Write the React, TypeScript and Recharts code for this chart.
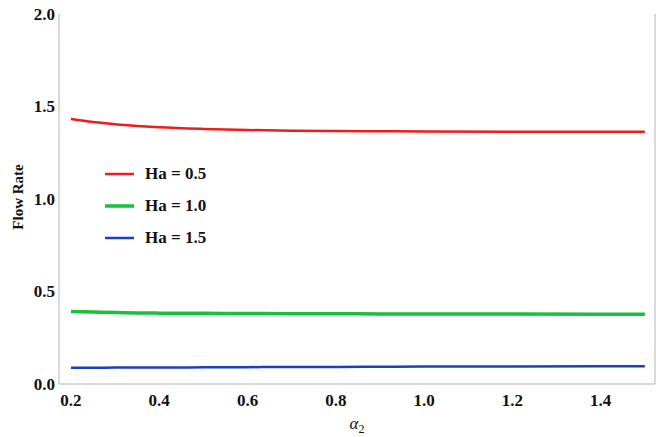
import React from "react";
import { LineChart, Line, XAxis, YAxis } from "recharts";

// alpha_2 sample points
const alphaValues = [0.2, 0.25, 0.3, 0.35, 0.4, 0.5, 0.6, 0.7, 0.8, 0.9, 1.0, 1.2, 1.4, 1.5];
// flow rate per Hartmann number
const ha05 = [1.432, 1.416, 1.404, 1.395, 1.388, 1.379, 1.373, 1.369, 1.367, 1.366, 1.365, 1.364, 1.364, 1.364];
const ha10 = [0.392, 0.389, 0.386, 0.384, 0.383, 0.382, 0.381, 0.38, 0.38, 0.379, 0.379, 0.378, 0.377, 0.377];
const ha15 = [0.088, 0.088, 0.089, 0.089, 0.089, 0.09, 0.091, 0.092, 0.092, 0.093, 0.094, 0.095, 0.096, 0.096];

const xTicks = [0.2, 0.4, 0.6, 0.8, 1.0, 1.2, 1.4];
const yTicks = [0, 0.5, 1.0, 1.5, 2.0];

const series = [
  { key: "ha05", name: "Ha = 0.5", color: "#ee1c1c", width: 2.5 },
  { key: "ha10", name: "Ha = 1.0", color: "#16c23a", width: 3.5 },
  { key: "ha15", name: "Ha = 1.5", color: "#1b3fbf", width: 2.5 },
];

const data = alphaValues.map((a, i) => ({
  alpha: a,
  ha05: ha05[i],
  ha10: ha10[i],
  ha15: ha15[i],
}));

const FONT = "'Liberation Serif', 'Times New Roman', serif";
const FRAME = "#b4b4b4";

const XTick = (props: any) => {
  const { x, y, payload } = props;
  return (
    <text x={x} y={y + 22} textAnchor="middle" fontFamily={FONT} fontWeight="bold" fontSize={17} fill="#111">
      {payload.value.toFixed(1)}
    </text>
  );
};

const YTick = (props: any) => {
  const { x, y, payload } = props;
  return (
    <text x={x} y={y + 5.5} textAnchor="end" fontFamily={FONT} fontWeight="bold" fontSize={17} fill="#111">
      {payload.value.toFixed(1)}
    </text>
  );
};

// legend sits inside the plot, so it's an overlay rather than a recharts Legend
const LegendBox = () => (
  <div
    style={{
      position: "absolute",
      left: 105,
      top: 158,
      fontFamily: FONT,
      fontWeight: "bold",
      fontSize: 17,
      color: "#111",
    }}
  >
    {series.map((s) => (
      <div key={s.key} style={{ display: "flex", alignItems: "center", height: 32 }}>
        <svg width={40} height={10}>
          <line x1={0} y1={5} x2={29} y2={5} stroke={s.color} strokeWidth={s.width} />
        </svg>
        <span>{s.name}</span>
      </div>
    ))}
  </div>
);

export default function App() {
  return (
    <div style={{ position: "absolute", left: 0, top: 0, width: 656, height: 437, background: "#fff" }}>
      <LineChart width={656} height={437} data={data} margin={{ top: 14, right: 0, bottom: 0, left: 0 }}>
        <XAxis
          dataKey="alpha"
          type="number"
          domain={[0.173, 1.523]}
          ticks={xTicks}
          tick={<XTick />}
          tickLine={false}
          tickSize={0}
          tickMargin={0}
          height={53}
          stroke={FRAME}
          allowDataOverflow
        />
        <XAxis xAxisId="top" orientation="top" type="number" domain={[0, 1]} tick={false} tickLine={false} height={0} stroke={FRAME} />
        <YAxis
          type="number"
          domain={[0, 2]}
          ticks={yTicks}
          tick={<YTick />}
          tickLine={false}
          tickSize={0}
          tickMargin={4}
          width={59}
          stroke={FRAME}
        />
        <YAxis yAxisId="right" orientation="right" type="number" domain={[0, 1]} tick={false} tickLine={false} width={1} stroke={FRAME} />
        {series.map((s) => (
          <Line
            key={s.key}
            type="monotone"
            dataKey={s.key}
            name={s.name}
            stroke={s.color}
            strokeWidth={s.width}
            dot={false}
            isAnimationActive={false}
          />
        ))}
        <text
          x={23}
          y={197}
          transform="rotate(-90, 23, 197)"
          textAnchor="middle"
          fontFamily={FONT}
          fontWeight="bold"
          fontSize={15}
          fill="#111"
        >
          Flow Rate
        </text>
        <text x={357} y={429} textAnchor="middle" fontFamily={FONT} fontSize={17} fill="#111">
          <tspan fontStyle="italic">α</tspan>
          <tspan fontSize={12} dy={4}>2</tspan>
        </text>
      </LineChart>
      <LegendBox />
    </div>
  );
}
